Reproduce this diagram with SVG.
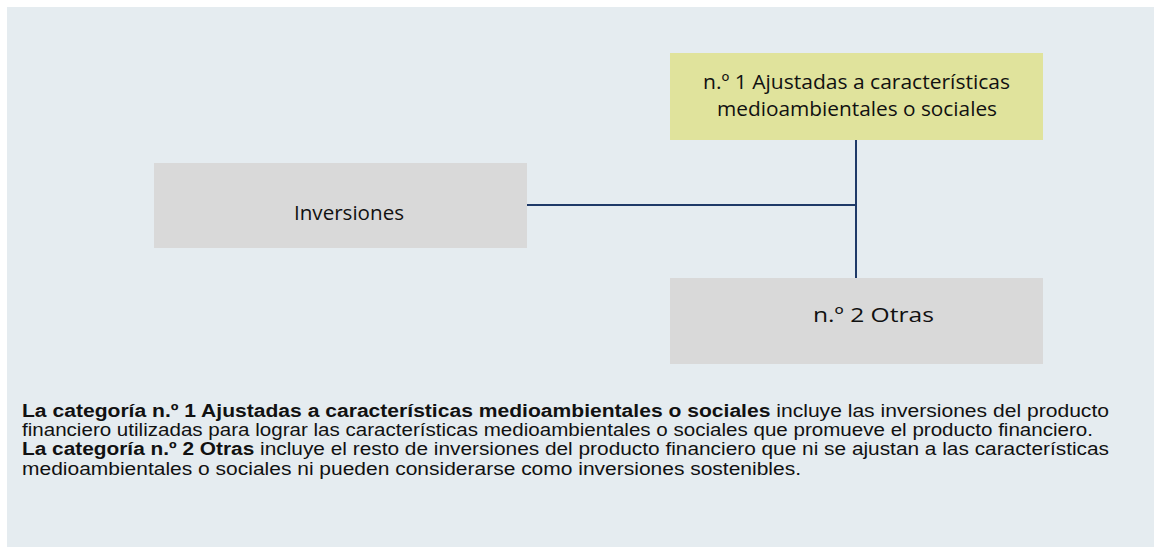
<svg xmlns="http://www.w3.org/2000/svg" width="1155" height="547" viewBox="0 0 1155 547">
<style>
.box{fill:#d9d9d9}
.yel{fill:#e0e39c}
.lbl{font-family:"Open Sans","Liberation Sans",sans-serif;font-size:20px;fill:#111}
.para{font-family:"Liberation Sans",Arial,sans-serif;font-size:17.5px;fill:#111}
.b{font-weight:bold}
.conn{stroke:#1f3a68;stroke-width:2;fill:none}
</style>
<rect x="0" y="0" width="1155" height="547" fill="#ffffff"/>
<rect x="7" y="7" width="1147" height="540" fill="#e5ecf0"/>
<g id="connectors">
<line class="conn" x1="527" y1="205" x2="856" y2="205"/>
<line class="conn" x1="856" y1="140" x2="856" y2="278"/>
</g>
<g id="node-inversiones">
<rect class="box" x="154" y="163" width="373" height="85"/>
<text class="lbl" x="294" y="220" textLength="110" lengthAdjust="spacingAndGlyphs">Inversiones</text>
</g>
<g id="node-n1">
<rect class="yel" x="670" y="53" width="373" height="87"/>
<text class="lbl" x="703" y="89" textLength="307" lengthAdjust="spacingAndGlyphs">n.º 1 Ajustadas a características</text>
<text class="lbl" x="717" y="116" textLength="280" lengthAdjust="spacingAndGlyphs">medioambientales o sociales</text>
</g>
<g id="node-n2">
<rect class="box" x="670" y="278" width="373" height="86"/>
<text class="lbl" x="813" y="322" textLength="121" lengthAdjust="spacingAndGlyphs">n.º 2 Otras</text>
</g>
<g id="legend">
<text class="para" x="22" y="417" textLength="1087" lengthAdjust="spacingAndGlyphs"><tspan class="b">La categoría n.º 1 Ajustadas a características medioambientales o sociales</tspan> incluye las inversiones del producto</text>
<text class="para" x="22" y="436" textLength="1071" lengthAdjust="spacingAndGlyphs">financiero utilizadas para lograr las características medioambientales o sociales que promueve el producto financiero.</text>
<text class="para" x="22" y="455" textLength="1087" lengthAdjust="spacingAndGlyphs"><tspan class="b">La categoría n.º 2 Otras</tspan> incluye el resto de inversiones del producto financiero que ni se ajustan a las características</text>
<text class="para" x="22" y="475" textLength="779" lengthAdjust="spacingAndGlyphs">medioambientales o sociales ni pueden considerarse como inversiones sostenibles.</text>
</g>
</svg>
